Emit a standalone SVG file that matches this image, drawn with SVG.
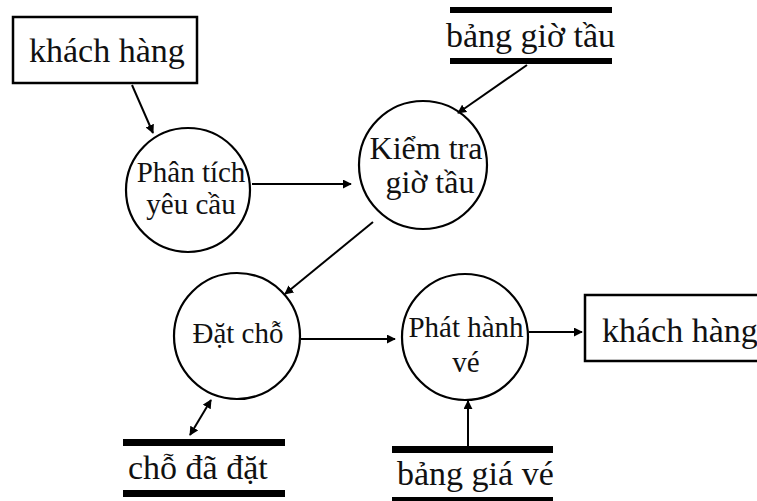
<svg xmlns="http://www.w3.org/2000/svg" width="757" height="501" viewBox="0 0 757 501">
  <style>
    .bg { fill: #ffffff; }
    .entity { fill: #ffffff; stroke: #000000; stroke-width: 2.5; }
    .proc { fill: #ffffff; stroke: #000000; stroke-width: 2.2; }
    .bar { fill: #000000; }
    .flow { fill: none; stroke: #000000; stroke-width: 2; }
    .big { font-family: "Liberation Serif", "Times New Roman", serif; font-size: 34px; fill: #111111; }
    .ptxt { font-family: "Liberation Serif", "Times New Roman", serif; font-size: 29px; fill: #111111; text-anchor: middle; }
    .ptxt-l { font-size: 32px; }
  </style>
  <defs>
    <marker id="arrow" viewBox="0 0 10 10" refX="9" refY="5" markerWidth="4.5" markerHeight="4.5" orient="auto-start-reverse">
      <path d="M0,0 L10,5 L0,10 Z" fill="#000000"/>
    </marker>
  </defs>
  <rect class="bg" x="0" y="0" width="757" height="501"/>

  <!-- external entity: customer (source) -->
  <g id="customer-in">
    <rect class="entity" x="13" y="17" width="184" height="66"/>
    <text class="big" x="29" y="62">khách hàng</text>
  </g>

  <!-- external entity: customer (sink), runs off the right edge -->
  <g id="customer-out">
    <path class="entity" d="M770,295 L585,295 L585,361 L770,361" />
    <text class="big" x="602" y="342">khách hàng</text>
  </g>

  <!-- processes -->
  <g id="p-analyse">
    <circle class="proc" cx="188" cy="190" r="62"/>
    <text class="ptxt" x="191" y="182">Phân tích</text>
    <text class="ptxt" x="191" y="214">yêu cầu</text>
  </g>
  <g id="p-check">
    <circle class="proc" cx="423" cy="165" r="64"/>
    <text class="ptxt ptxt-l" x="426" y="159">Kiểm tra</text>
    <text class="ptxt ptxt-l" x="430" y="193">giờ tầu</text>
  </g>
  <g id="p-book">
    <circle class="proc" cx="237" cy="336" r="63"/>
    <text class="ptxt" x="238" y="343">Đặt chỗ</text>
  </g>
  <g id="p-issue">
    <circle class="proc" cx="465" cy="337" r="63"/>
    <text class="ptxt" x="466" y="337">Phát hành</text>
    <text class="ptxt" x="466" y="372">vé</text>
  </g>

  <!-- data stores -->
  <g id="store-timetable">
    <rect class="bar" x="450" y="7" width="162" height="6"/>
    <rect class="bar" x="450" y="58" width="162" height="6"/>
    <text class="big" x="446" y="47">bảng giờ tầu</text>
  </g>
  <g id="store-booked">
    <rect class="bar" x="123" y="439" width="162" height="7"/>
    <rect class="bar" x="123" y="490" width="162" height="7"/>
    <text class="big" x="128" y="479">chỗ đã đặt</text>
  </g>
  <g id="store-prices">
    <rect class="bar" x="392" y="446" width="161" height="7"/>
    <rect class="bar" x="392" y="497" width="161" height="6"/>
    <text class="big" x="397" y="485">bảng giá vé</text>
  </g>

  <!-- data flows -->
  <g id="flows">
    <line class="flow" x1="132" y1="85" x2="153" y2="133" marker-end="url(#arrow)"/>
    <line class="flow" x1="252" y1="184" x2="351" y2="184" marker-end="url(#arrow)"/>
    <line class="flow" x1="527" y1="65" x2="458" y2="113" marker-end="url(#arrow)"/>
    <line class="flow" x1="373" y1="222" x2="285" y2="294" marker-end="url(#arrow)"/>
    <line class="flow" x1="301" y1="339" x2="395" y2="339" marker-end="url(#arrow)"/>
    <line class="flow" x1="529" y1="332" x2="582" y2="332" marker-end="url(#arrow)"/>
    <line class="flow" x1="468" y1="446" x2="468" y2="401" marker-end="url(#arrow)"/>
    <line class="flow" x1="190" y1="435" x2="211" y2="400" marker-start="url(#arrow)" marker-end="url(#arrow)"/>
  </g>
</svg>
